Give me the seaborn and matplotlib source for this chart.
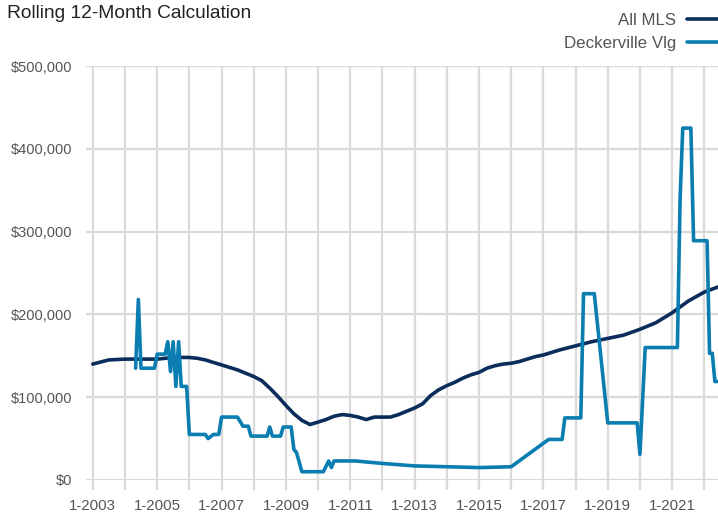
import pandas as pd
import matplotlib.pyplot as plt
import matplotlib.ticker as ticker
from matplotlib.lines import Line2D
import seaborn as sns

sns.set_theme(style="white")
plt.rcParams['font.family'] = ['Liberation Sans', 'DejaVu Sans']

# All MLS - rolling 12 month values (thousands of $)
mls_months = ['2003-01', '2003-07', '2004-01', '2005-01', '2005-07', '2006-01', '2006-04', '2006-07',
              '2006-10', '2007-01', '2007-04', '2007-07', '2007-10', '2008-01', '2008-04', '2008-07',
              '2008-10', '2009-01', '2009-04', '2009-07', '2009-10', '2010-01', '2010-04', '2010-07',
              '2010-10', '2011-01', '2011-04', '2011-07', '2011-10', '2012-04', '2012-07', '2012-10',
              '2013-01', '2013-04', '2013-07', '2013-10', '2014-01', '2014-04', '2014-07', '2014-10',
              '2015-01', '2015-04', '2015-07', '2015-10', '2016-01', '2016-04', '2016-07', '2016-10',
              '2017-01', '2017-07', '2018-01', '2018-07', '2019-01', '2019-07', '2020-01', '2020-07',
              '2021-01', '2021-07', '2022-01', '2022-06']
mls_values = [140, 145, 146, 146, 148, 148, 147, 145,
              142, 139, 136, 133, 129, 125, 120, 111,
              101, 90, 80, 72, 67, 70, 73, 77,
              79, 78, 76, 73, 76, 76, 79, 83,
              87, 92, 102, 109, 114, 118, 123, 127,
              130, 135, 138, 140, 141, 143, 146, 149,
              151, 157, 162, 167, 171, 175, 182, 190,
              202, 216, 227, 233]

# Deckerville Vlg
dv_months = ['2004-05', '2004-06', '2004-07', '2004-12', '2005-01', '2005-04', '2005-05', '2005-06',
             '2005-07', '2005-08', '2005-09', '2005-10', '2005-12', '2006-01', '2006-07', '2006-08',
             '2006-10', '2006-12', '2007-01', '2007-07', '2007-09', '2007-11', '2007-12', '2008-06',
             '2008-07', '2008-08', '2008-11', '2008-12', '2009-03', '2009-04', '2009-05', '2009-07',
             '2010-03', '2010-05', '2010-06', '2010-07', '2011-03', '2012-01', '2013-01', '2014-01',
             '2015-01', '2016-01', '2017-03', '2017-08', '2017-09', '2018-03', '2018-04', '2018-08',
             '2019-01', '2019-12', '2020-01', '2020-03', '2021-03', '2021-04', '2021-05', '2021-08',
             '2021-09', '2022-02', '2022-03', '2022-04', '2022-05', '2022-06']
dv_values = [135, 218, 135, 135, 152, 152, 167, 131,
             167, 113, 167, 113, 113, 55, 55, 50,
             55, 55, 76, 76, 65, 65, 53, 53,
             64, 53, 53, 64, 64, 37, 33, 10,
             10, 23, 15, 23, 23, 20, 17, 16,
             15, 16, 49, 49, 75, 75, 225, 225,
             69, 69, 31, 160, 160, 340, 425, 425,
             289, 289, 153, 153, 119, 119]

series_names = ['All MLS', 'Deckerville Vlg']
colors = {'All MLS': '#0b2d5c', 'Deckerville Vlg': '#0a7db1'}

df = pd.concat([
    pd.DataFrame({'date': pd.to_datetime(mls_months), 'value': [v * 1000 for v in mls_values], 'series': 'All MLS'}),
    pd.DataFrame({'date': pd.to_datetime(dv_months), 'value': [v * 1000 for v in dv_values], 'series': 'Deckerville Vlg'}),
], ignore_index=True)

fig = plt.figure(figsize=(7.18, 5.15), dpi=100)
ax = fig.add_axes([86 / 718, 1 - 480 / 515, 1 - 86 / 718, (480 - 66) / 515])

sns.lineplot(data=df, x='date', y='value', hue='series', hue_order=series_names,
             palette=colors, linewidth=2.6, legend=False, ax=ax, estimator=None)

grid_c = '#dadada'
ax.set_ylim(0, 500000)
ax.set_xlim(pd.Timestamp('2002-10-16'), pd.Timestamp('2022-06-05'))
ax.yaxis.set_major_locator(ticker.MultipleLocator(100000))
ax.yaxis.set_major_formatter(ticker.FuncFormatter(lambda v, p: f'${v:,.0f}'))

years = list(range(2003, 2023))
ax.set_xticks([pd.Timestamp(f'{y}-01-01') for y in years])
ax.set_xticklabels([f'1-{y}' if (y - 2003) % 2 == 0 else '' for y in years])

ax.grid(True, color=grid_c, linewidth=1.6)
ax.set_axisbelow(True)
for s in ax.spines.values():
    s.set_visible(False)
ax.tick_params(axis='x', length=7, width=1.6, color=grid_c, labelsize=10.8, labelcolor='#555555', pad=7, bottom=True)
ax.tick_params(axis='y', length=0, labelsize=10.5, labelcolor='#555555', pad=10)
ax.set_xlabel('')
ax.set_ylabel('')

fig.text(7 / 718, 1 - 13 / 515, 'Rolling 12-Month Calculation', fontsize=13.8, color='#222222',
         ha='left', va='center')

handles = [Line2D([0], [0], color=colors[n], linewidth=2.6) for n in series_names]
fig.legend(handles, series_names, loc='upper right', bbox_to_anchor=(1.0, 1 - 13 / 515),
           frameon=False, markerfirst=False, fontsize=12.2, labelcolor='#555555',
           handlelength=1.85, handletextpad=0.6, labelspacing=0.45, borderaxespad=0,
           borderpad=0)

fig.savefig('out.png', dpi=100)
